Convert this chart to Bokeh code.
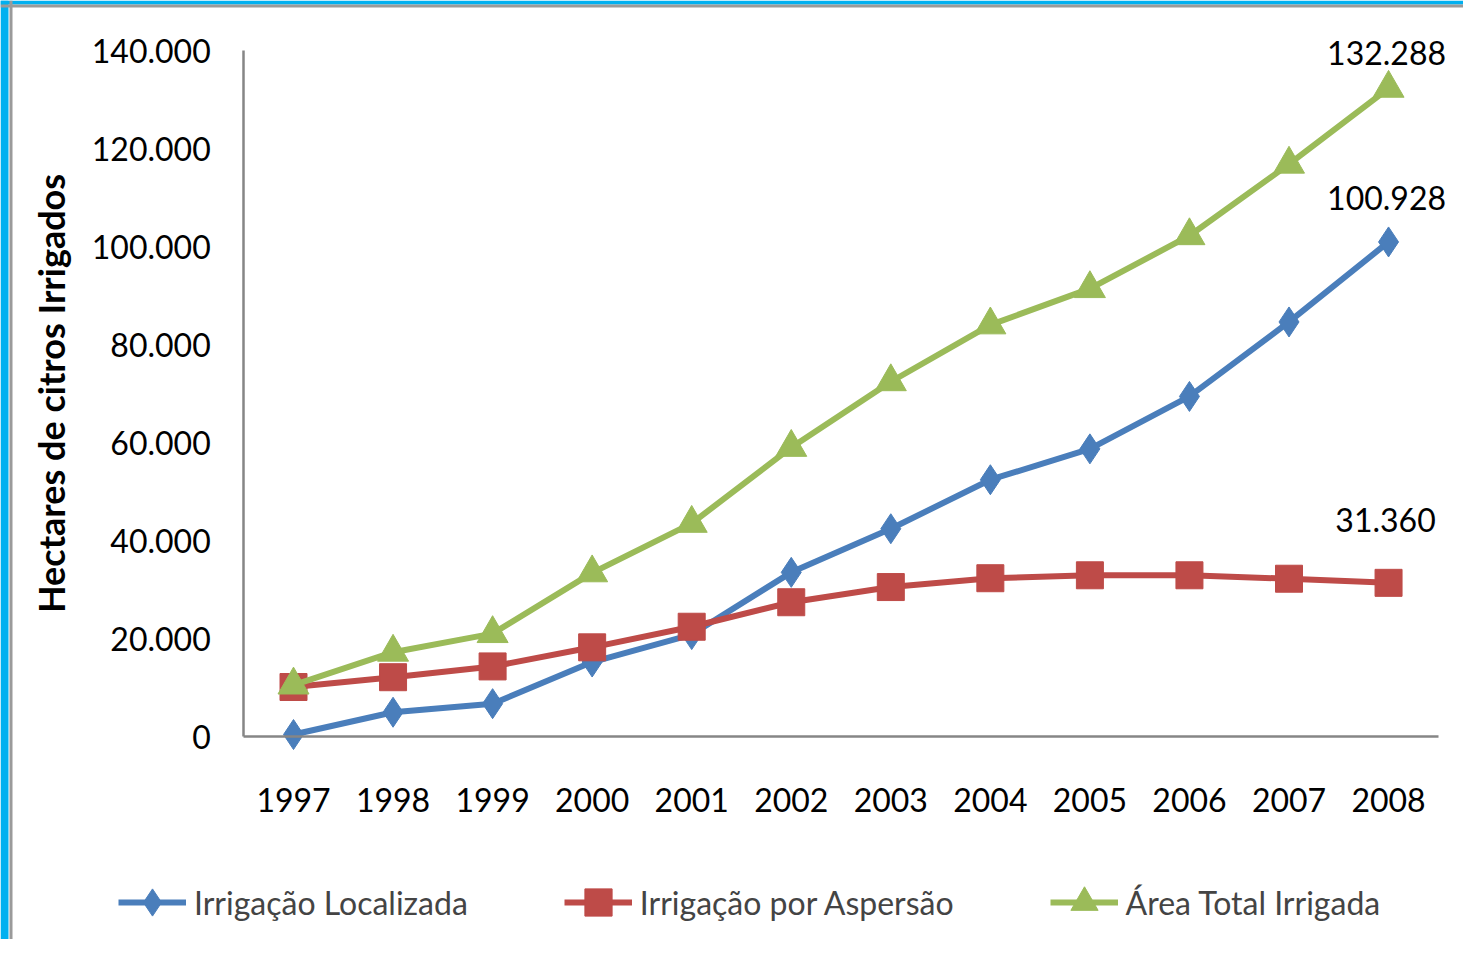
from bokeh.plotting import figure
from bokeh.models import (Range1d, FixedTicker, CustomJSTickFormatter, Legend, LegendItem,
                          ColumnDataSource, Label, LinearAxis, Span)
from bokeh.core.properties import value
from bokeh.embed import file_html
from bokeh.resources import INLINE
import math

years = [1997, 1998, 1999, 2000, 2001, 2002, 2003, 2004, 2005, 2006, 2007, 2008]
localizada = [400, 4950, 6700, 15200, 20800, 33500, 42400, 52400, 58700, 69400, 84600, 100928]
aspersao = [10100, 12100, 14300, 18200, 22400, 27400, 30500, 32300, 32900, 32900, 32200, 31360]
total = [10500, 17200, 21000, 33400, 43500, 59000, 72400, 84000, 91400, 102200, 116800, 132288]
y_ticks = [0, 20000, 40000, 60000, 80000, 100000, 120000, 140000]
series_names = ["Irrigação Localizada", "Irrigação por Aspersão", "Área Total Irrigada"]
y_title = "Hectares de citros Irrigados"

BLUE = "#4a7ebb"
RED = "#be4b48"
GREEN = "#9bbb59"
AXIS = "#868686"
FRAME_CYAN = "#00b0f0"
FONT = "Lato"

W, H = 1463, 939
# layout: pixel position of first category / zero line, and scales
X0_PX, X_STEP = 293, 99.55          # px of first year, px per year
Y0_PX, Y_SCALE = 736, 686 / 140000  # px (from top) of zero line, px per unit

x_start = years[0] - X0_PX / X_STEP
x_end = x_start + W / X_STEP
y_start = -(H - Y0_PX) / Y_SCALE
y_end = Y0_PX / Y_SCALE

p = figure(width=W, height=H, output_backend="svg", toolbar_location=None, title=None,
           x_range=Range1d(x_start, x_end), y_range=Range1d(y_start, y_end),
           x_axis_location=None, y_axis_location=None,
           min_border_left=0, min_border_right=0, min_border_top=0, min_border_bottom=0)
p.background_fill_color = "white"
p.border_fill_color = "white"
p.outline_line_color = None
p.grid.visible = False

# slide border (cyan strip + gray rule) on left and top
p.add_layout(Span(location=4, location_units="screen", dimension="height",
                  line_color=FRAME_CYAN, line_width=8))
p.add_layout(Span(location=H - 2, location_units="screen", dimension="width",
                  line_color=FRAME_CYAN, line_width=4))
p.add_layout(Span(location=10.5, location_units="screen", dimension="height",
                  line_color="#9a9a9a", line_width=3))
p.add_layout(Span(location=H - 5.5, location_units="screen", dimension="width",
                  line_color="#9a9a9a", line_width=3))

xaxis = LinearAxis(fixed_location=0, ticker=FixedTicker(ticks=years),
                   bounds=(years[0] - 0.5, years[-1] + 0.5))
yaxis = LinearAxis(fixed_location=years[0] - 0.5, ticker=FixedTicker(ticks=y_ticks),
                   bounds=(y_ticks[0], y_ticks[-1]))
yaxis.formatter = CustomJSTickFormatter(
    code="return Math.round(tick).toString().replace(/\\B(?=(\\d{3})+(?!\\d))/g, '.');")
for ax in (xaxis, yaxis):
    ax.axis_line_color = AXIS
    ax.axis_line_width = 2.5
    ax.major_tick_line_color = None
    ax.minor_tick_line_color = None
    ax.major_tick_out = 0
    ax.major_tick_in = 0
    ax.major_label_text_font = FONT
    ax.major_label_text_font_size = "32px"
    ax.major_label_text_color = "black"
xaxis.major_label_standoff = 51
yaxis.major_label_standoff = 33
p.add_layout(xaxis, "below")
p.add_layout(yaxis, "left")

p.add_layout(Label(x=50, y=H - 393, x_units="screen", y_units="screen", text=y_title,
                   angle=math.pi / 2, text_font=FONT, text_font_size="36px",
                   text_font_style="bold", text_align="center", text_baseline="middle",
                   text_color="black"))

src = ColumnDataSource(dict(x=years, loc=localizada, asp=aspersao, tot=total))

l1 = p.line("x", "loc", source=src, line_color=BLUE, line_width=6)
m1 = p.scatter("x", "loc", source=src, marker="diamond", size=30, fill_color=BLUE, line_color=BLUE)
l2 = p.line("x", "asp", source=src, line_color=RED, line_width=6)
m2 = p.scatter("x", "asp", source=src, marker="square", size=27, fill_color=RED, line_color=RED)
l3 = p.line("x", "tot", source=src, line_color=GREEN, line_width=6)
m3 = p.scatter("x", "tot", source=src, marker="triangle", size=31, fill_color=GREEN, line_color=GREEN)

# end labels
last_vals = [total[-1], localizada[-1], aspersao[-1]]
label_offsets = [-35, -44, -63]
label_xoffsets = [-2, -2, -3]
labels = [f"{v:,}".replace(",", ".") for v in last_vals]
for v, off, xo, txt in zip(last_vals, label_offsets, label_xoffsets, labels):
    p.text(x=[years[-1]], y=[v], text=[txt], text_font=value(FONT), text_font_size="32px",
           text_align="center", text_baseline="middle", y_offset=off, x_offset=xo,
           text_color="black")

legend = Legend(items=[LegendItem(label=series_names[0], renderers=[l1, m1]),
                       LegendItem(label=series_names[1], renderers=[l2, m2]),
                       LegendItem(label=series_names[2], renderers=[l3, m3])],
                orientation="horizontal", location=(118, H - 937),
                label_text_font=FONT, label_text_font_size="32px",
                glyph_width=68, glyph_height=70, label_height=36, label_standoff=8,
                spacing=96, padding=0, margin=0,
                border_line_color=None, background_fill_alpha=0)
p.add_layout(legend, "center")

open("out.html", "w").write(file_html(p, INLINE))
